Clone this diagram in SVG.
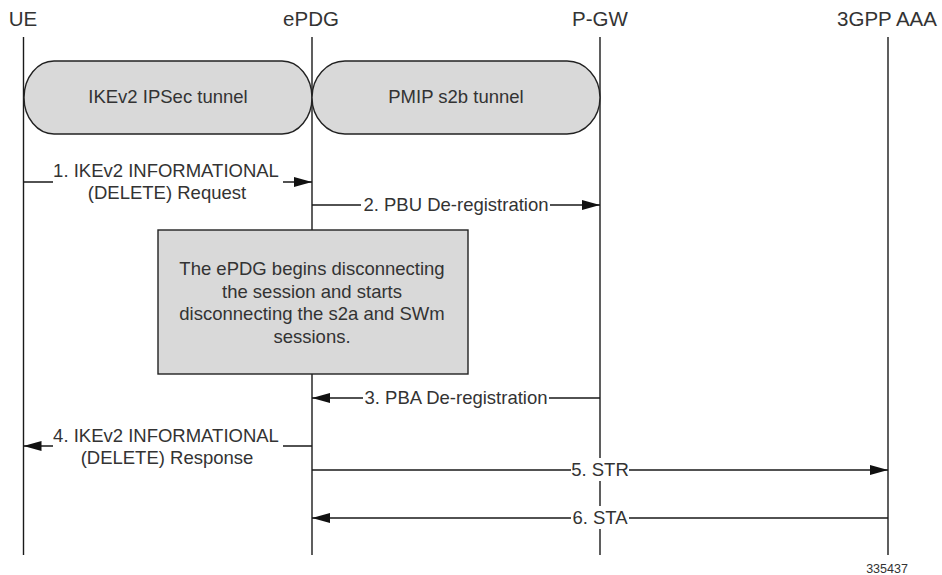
<svg xmlns="http://www.w3.org/2000/svg" width="942" height="575" viewBox="0 0 942 575">
  <style>
    .head { font-family: "Liberation Sans", Arial, sans-serif; font-size: 20.5px; fill: #333; text-anchor: middle; }
    .lbl { font-family: "Liberation Sans", Arial, sans-serif; font-size: 18.5px; fill: #333; text-anchor: middle; }
    .life { stroke: #1a1a1a; stroke-width: 1.4; fill: none; }
    .msg { stroke: #1a1a1a; stroke-width: 1.4; fill: none; }
    .shade { fill: #d9d9d9; stroke: #222; stroke-width: 1.4; }
    .bg { fill: #ffffff; stroke: none; }
    .fig { font-family: "Liberation Sans", Arial, sans-serif; font-size: 12.5px; fill: #333; text-anchor: middle; }
  </style>
  <defs>
    <marker id="arr" markerUnits="userSpaceOnUse" markerWidth="19" markerHeight="11" refX="18" refY="5" orient="auto">
      <path d="M0,0 L18,5 L0,10 Z" fill="#111"/>
    </marker>
  </defs>
  <rect width="942" height="575" fill="#fff"/>

  <g id="ue">
    <text class="head" x="23" y="26">UE</text>
    <line class="life" x1="23.5" y1="37" x2="23.5" y2="555"/>
  </g>
  <g id="epdg">
    <text class="head" x="311" y="26">ePDG</text>
    <line class="life" x1="312" y1="37" x2="312" y2="555"/>
  </g>
  <g id="pgw">
    <text class="head" x="600" y="26">P-GW</text>
    <line class="life" x1="600" y1="37" x2="600" y2="555"/>
  </g>
  <g id="aaa">
    <text class="head" x="887" y="26">3GPP AAA</text>
    <line class="life" x1="888" y1="37" x2="888" y2="555"/>
  </g>

  <g id="ikev2-tunnel">
    <rect class="shade" x="24" y="61" width="288" height="73" rx="30" ry="36.5"/>
    <text class="lbl" x="168" y="103">IKEv2 IPSec tunnel</text>
  </g>
  <g id="pmip-tunnel">
    <rect class="shade" x="312" y="61" width="288" height="73" rx="33" ry="36.5"/>
    <text class="lbl" x="456" y="103">PMIP s2b tunnel</text>
  </g>

  <g id="note">
    <rect class="shade" x="158" y="230" width="310" height="144"/>
    <text class="lbl" x="312" y="275">The ePDG begins disconnecting</text>
    <text class="lbl" x="312" y="297.5">the session and starts</text>
    <text class="lbl" x="312" y="320">disconnecting the s2a and SWm</text>
    <text class="lbl" x="312" y="342.5">sessions.</text>
  </g>

  <g id="connectors">
    <path class="msg" d="M23.5,182 H53 M283,182 H312" marker-end="url(#arr)"/>
    <path class="msg" d="M312,205 H361 M550,205 H600" marker-end="url(#arr)"/>
    <path class="msg" d="M600,398 H549 M363,398 H312" marker-end="url(#arr)"/>
    <path class="msg" d="M312,446 H283 M53,446 H23.5" marker-end="url(#arr)"/>
    <path class="msg" d="M312,470 H571 M629,470 H888" marker-end="url(#arr)"/>
    <path class="msg" d="M888,518 H629 M571,518 H312" marker-end="url(#arr)"/>
  </g>

  <g id="labels">
    <text class="lbl" x="166" y="177">1. IKEv2 INFORMATIONAL</text>
    <text class="lbl" x="167" y="198.5">(DELETE) Request</text>
    <text class="lbl" x="456" y="211">2. PBU De-registration</text>
    <text class="lbl" x="456" y="404">3. PBA De-registration</text>
    <text class="lbl" x="166" y="442">4. IKEv2 INFORMATIONAL</text>
    <text class="lbl" x="167" y="464">(DELETE) Response</text>
    <rect class="bg" x="571" y="458" width="58" height="23"/>
    <text class="lbl" x="600" y="476">5. STR</text>
    <rect class="bg" x="571" y="506" width="58" height="23"/>
    <text class="lbl" x="600" y="524">6. STA</text>
  </g>

  <text class="fig" x="887" y="573">335437</text>
</svg>
